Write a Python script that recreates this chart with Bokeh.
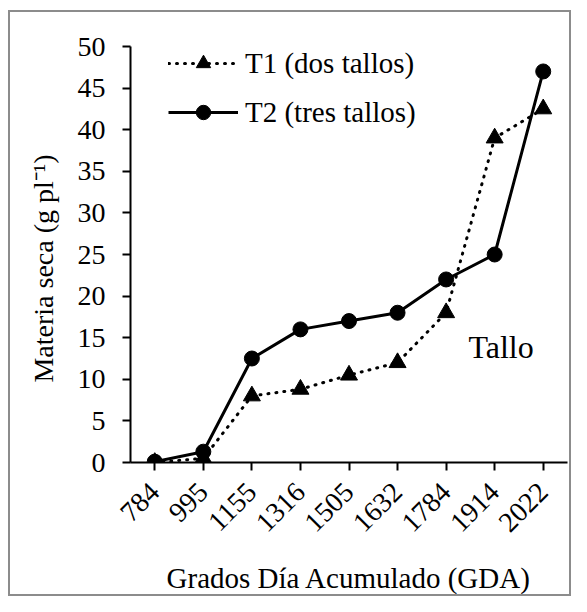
from math import pi
from bokeh.plotting import figure
from bokeh.models import (ColumnDataSource, Label, FactorRange, Range1d, FixedTicker,
                          InlineStyleSheet)
from bokeh.embed import file_html
from bokeh.resources import INLINE

gda = ["784", "995", "1155", "1316", "1505", "1632", "1784", "1914", "2022"]
t1 = [0.0, 0.5, 8.0, 8.8, 10.5, 12.0, 18.0, 39.0, 42.5]
t2 = [0.1, 1.3, 12.5, 16.0, 17.0, 18.0, 22.0, 25.0, 47.0]
y_ticks = [0, 5, 10, 15, 20, 25, 30, 35, 40, 45, 50]

FONT = "Liberation Serif"

src = ColumnDataSource(dict(x=gda, t1=t1, t2=t2))

frame_css = InlineStyleSheet(css="""
:host { position: relative; }
:host::after {
  content: ""; position: absolute; left: 8px; top: 10px; width: 563px; height: 586px;
  border: 2px solid #8c8c8c; box-sizing: border-box; pointer-events: none; z-index: 100;
}
""")

p = figure(width=571, height=596, x_range=FactorRange(*gda, range_padding=0),
           y_range=Range1d(0, 50), output_backend="svg", toolbar_location=None,
           min_border_left=130, min_border_right=4, min_border_top=46, min_border_bottom=134,
           stylesheets=[frame_css])
p.outline_line_color = None
p.grid.visible = False
p.background_fill_color = "white"
p.border_fill_color = "white"

p.line("x", "t1", source=src, line_color="black", line_width=3, line_dash="1 7",
       line_cap="round", legend_label="T1 (dos tallos)")
p.scatter("x", "t1", source=src, marker="triangle", size=17, fill_color="black",
          line_color="black", legend_label="T1 (dos tallos)")
p.line("x", "t2", source=src, line_color="black", line_width=3, legend_label="T2 (tres tallos)")
p.scatter("x", "t2", source=src, marker="circle", size=15, fill_color="black",
          line_color="black", legend_label="T2 (tres tallos)")

for ax in (p.xaxis[0], p.yaxis[0]):
    ax.axis_line_color = "black"
    ax.axis_line_width = 2
    ax.major_tick_line_color = "black"
    ax.major_tick_line_width = 2
    ax.major_tick_in = 0
    ax.major_tick_out = 8
    ax.minor_tick_line_color = None
    ax.major_label_text_font = FONT
    ax.major_label_text_font_size = "28px"
    ax.major_label_text_color = "black"
    ax.axis_label_text_font = FONT
    ax.axis_label_text_font_style = "normal"
    ax.axis_label_text_color = "black"

p.yaxis.ticker = FixedTicker(ticks=y_ticks)
p.yaxis.axis_label = "Materia seca (g pl\u207b\u00b9)\u00a0\u00a0\u00a0\u00a0"
p.yaxis.axis_label_text_font_size = "28px"
p.yaxis.major_label_standoff = 17
p.yaxis.axis_label_standoff = 16
p.xaxis.axis_label = "Grados Día Acumulado (GDA)"
p.xaxis.axis_label_text_font_size = "29px"
p.xaxis.major_label_orientation = pi / 4
p.xaxis.major_label_standoff = 17
p.xaxis.axis_label_standoff = 19
p.xaxis.separator_line_color = None
p.xaxis.group_text_color = None

leg = p.legend[0]
leg.location = (38, 332)
leg.border_line_color = None
leg.background_fill_alpha = 0
leg.padding = 0
leg.margin = 0
leg.spacing = 13
leg.glyph_width = 70
leg.glyph_height = 36
leg.label_height = 36
leg.label_standoff = 7
leg.label_text_font = FONT
leg.label_text_font_size = "29px"
leg.label_text_color = "black"

p.add_layout(Label(x=6.96, y=13.9, text="Tallo", text_font=FONT, text_font_size="32px",
                   text_color="black", text_baseline="alphabetic"))

open("out.html", "w").write(file_html(p, INLINE))
